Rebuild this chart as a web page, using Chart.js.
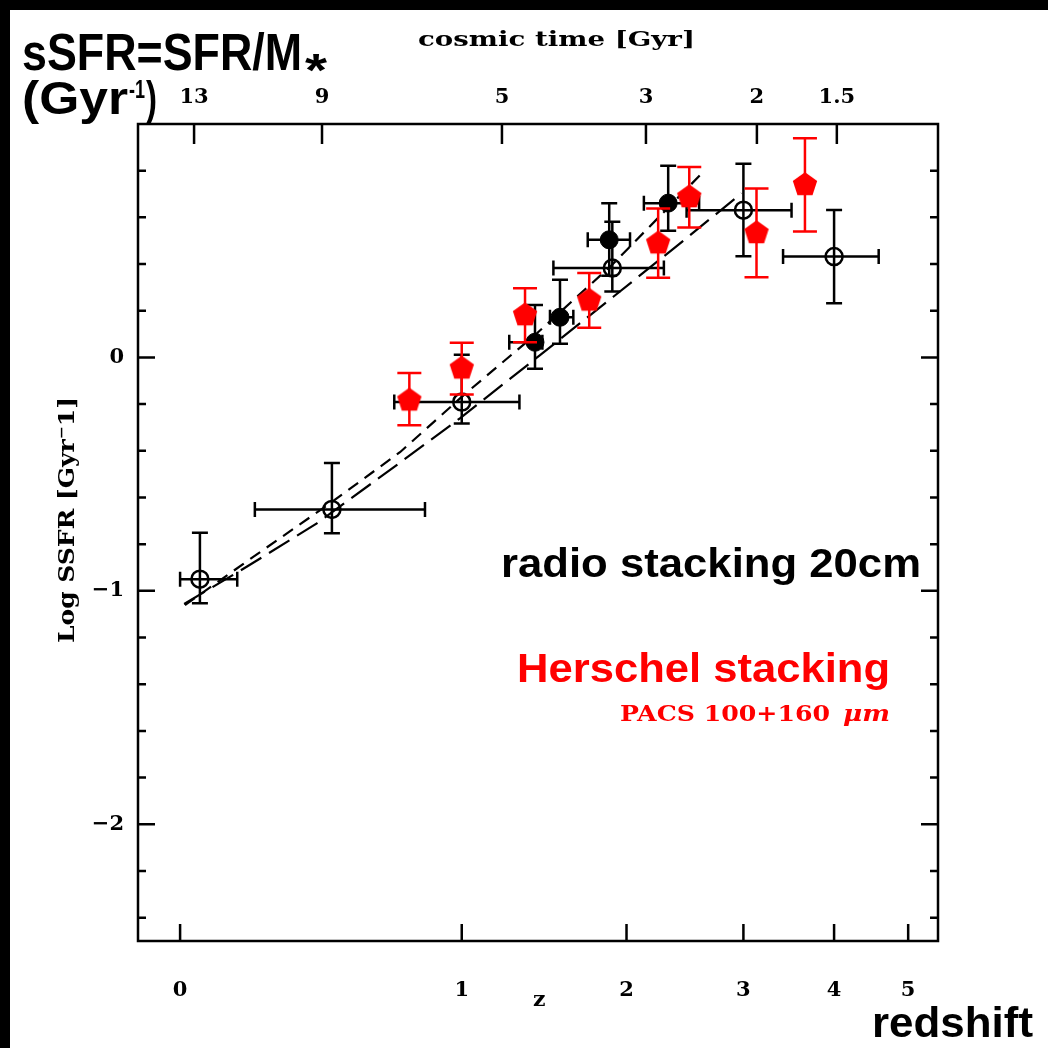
<!DOCTYPE html>
<html>
<head>
<meta charset="utf-8">
<script src="https://cdn.jsdelivr.net/npm/chart.js@4"></script>
<style>
  html, body { margin: 0; padding: 0; background: #fff; }
  canvas { display: block; }
</style>
</head>
<body>
<canvas id="ssfr-graph" width="1048" height="1048"></canvas>
<script>
// radio stacking 20cm, open circles (z with x error, log sSFR with y error)
const radioZ = [0.05, 0.453, 1.0, 1.897, 3.0, 4.0];
const radioZLo = [0.0, 0.202, 0.694, 1.506, 2.478, 3.41];
const radioZHi = [0.151, 0.827, 1.305, 2.289, 3.503, 4.58];
const radioSSFR = [-0.95, -0.651, -0.191, 0.383, 0.631, 0.432];
const radioSSFRLo = [-1.053, -0.753, -0.283, 0.282, 0.433, 0.232];
const radioSSFRHi = [-0.751, -0.452, 0.012, 0.581, 0.83, 0.632];

// radio stacking, filled circles
const radioSubZ = [1.395, 1.547, 1.875, 2.324];
const radioSubZLo = [1.248, 1.485, 1.727, 2.131];
const radioSubZHi = [1.439, 1.632, 2.026, 2.587];
const radioSubSSFR = [0.065, 0.172, 0.504, 0.661];
const radioSubSSFRLo = [-0.048, 0.059, 0.35, 0.543];
const radioSubSSFRHi = [0.225, 0.333, 0.661, 0.821];

// Herschel PACS stacking, red pentagons
const herschelZ = [0.758, 1.0, 1.337, 1.737, 2.243, 2.501, 3.131, 3.654];
const herschelSSFR = [-0.184, -0.047, 0.181, 0.244, 0.489, 0.687, 0.533, 0.739];
const herschelSSFRLo = [-0.291, -0.159, 0.065, 0.127, 0.341, 0.557, 0.343, 0.54];
const herschelSSFRHi = [-0.067, 0.063, 0.296, 0.362, 0.638, 0.816, 0.724, 0.939];

// model curves
const shortDashZ = [0.012, 0.188, 0.446, 0.718, 1.021, 1.395, 1.894, 2.622];
const shortDashSSFR = [-1.061, -0.864, -0.625, -0.406, -0.153, 0.096, 0.396, 0.794];
const longDashZ = [0.01, 0.178, 0.4, 0.704, 0.991, 1.425, 1.904, 2.363, 2.982];
const longDashSSFR = [-1.056, -0.897, -0.711, -0.461, -0.261, 0.01, 0.26, 0.464, 0.703];

// axes
const zTicks = [0, 1, 2, 3, 4, 5];
const cosmicTimeZ = [0.035, 0.418, 1.208, 2.147, 3.135, 4.034];
const cosmicTimeLabels = ['13', '9', '5', '3', '2', '1.5'];
const ssfrTicks = [-2.4, -2.2, -2, -1.8, -1.6, -1.4, -1.2, -1, -0.8, -0.6, -0.4, -0.2, 0, 0.2, 0.4, 0.6, 0.8];
const ssfrLabels = {'0': '0', '-1': '\u22121', '-2': '\u22122'};

const X_MIN = 0.9016, X_MAX = 6.457; // 1+z

const toPoints = (zs, ys) => zs.map((z, i) => ({x: 1 + z, y: ys[i]}));

const pentagon = document.createElement('canvas');
pentagon.width = 28;
pentagon.height = 28;
const pc = pentagon.getContext('2d');
pc.fillStyle = '#ff0000';
pc.beginPath();
for (let k = 0; k < 5; k++) {
    const a = -Math.PI / 2 + k * 2 * Math.PI / 5;
    const px = 14 + 12.8 * Math.cos(a), py = 14 + 12.8 * Math.sin(a);
    if (k) pc.lineTo(px, py); else pc.moveTo(px, py);
}
pc.closePath();
pc.fill();

const errorBars = {
    id: 'errorBars',
    beforeDatasetDraw(chart, args) {
        const e = chart.data.datasets[args.index].errors;
        if (!e) return;
        const {ctx, scales: {x, y}} = chart;
        ctx.save();
        ctx.strokeStyle = e.color;
        ctx.lineWidth = 2.5;
        ctx.beginPath();
        e.z.forEach((z, i) => {
            const px = x.getPixelForValue(1 + z);
            const py = y.getPixelForValue(e.val[i]);
            const y1 = y.getPixelForValue(e.lo[i]);
            const y2 = y.getPixelForValue(e.hi[i]);
            ctx.moveTo(px, y1); ctx.lineTo(px, y2);
            ctx.moveTo(px - e.cap, y1); ctx.lineTo(px + e.cap, y1);
            ctx.moveTo(px - e.cap, y2); ctx.lineTo(px + e.cap, y2);
            if (e.zLo) {
                const x1 = x.getPixelForValue(1 + e.zLo[i]);
                const x2 = x.getPixelForValue(1 + e.zHi[i]);
                ctx.moveTo(x1, py); ctx.lineTo(x2, py);
                ctx.moveTo(x1, py - 7.5); ctx.lineTo(x1, py + 7.5);
                ctx.moveTo(x2, py - 7.5); ctx.lineTo(x2, py + 7.5);
            }
        });
        ctx.stroke();
        ctx.restore();
    }
};

const fitText = (ctx, text, x, y, width, font, color) => {
    ctx.save();
    ctx.font = font;
    ctx.fillStyle = color || '#000';
    ctx.textBaseline = 'alphabetic';
    const w = ctx.measureText(text).width;
    ctx.translate(x, y);
    ctx.scale(width / w, 1);
    ctx.fillText(text, 0, 0);
    ctx.restore();
};

const frame = {
    id: 'frame',
    beforeDraw(chart) {
        const ctx = chart.ctx;
        ctx.save();
        ctx.fillStyle = '#fff';
        ctx.fillRect(0, 0, 1048, 1048);
        ctx.fillStyle = '#000';
        ctx.fillRect(0, 0, 1048, 10);
        ctx.fillRect(0, 0, 10, 1048);
        ctx.restore();
    },
    beforeDatasetsDraw(chart) {
        const {ctx, chartArea: a, scales} = chart;
        ctx.save();
        ctx.strokeStyle = '#000';
        ctx.lineWidth = 2.5;
        ctx.strokeRect(a.left, a.top, a.width, a.height);
        ctx.beginPath();
        scales.x.ticks.forEach(t => {
            const px = scales.x.getPixelForValue(t.value);
            ctx.moveTo(px, a.bottom); ctx.lineTo(px, a.bottom - 17);
        });
        scales.xTop.ticks.forEach(t => {
            const px = scales.xTop.getPixelForValue(t.value);
            ctx.moveTo(px, a.top); ctx.lineTo(px, a.top + 20);
        });
        scales.y.ticks.forEach(t => {
            const py = scales.y.getPixelForValue(t.value);
            const len = Number.isInteger(t.value) ? 17 : 8;
            ctx.moveTo(a.left, py); ctx.lineTo(a.left + len, py);
            ctx.moveTo(a.right, py); ctx.lineTo(a.right - len, py);
        });
        ctx.stroke();
        ctx.restore();
    },
    afterDraw(chart) {
        const ctx = chart.ctx;
        const sans = '"Liberation Sans", Arial, sans-serif';
        const serif = '"DejaVu Serif", serif';
        fitText(ctx, 'sSFR=SFR/M', 22, 70, 280, 'bold 52px ' + sans);
        fitText(ctx, '*', 305, 86, 22, 'bold 46px ' + sans);
        fitText(ctx, '(Gyr', 22, 114, 106, 'bold 46px ' + sans);
        fitText(ctx, '-1', 129, 98, 16, 'bold 26px ' + sans);
        fitText(ctx, ')', 146, 114, 11, 'bold 46px ' + sans);
        fitText(ctx, 'cosmic time [Gyr]', 418, 46, 277, 'bold 21px ' + serif);
        fitText(ctx, 'radio stacking 20cm', 501, 577, 420, 'bold 40px ' + sans);
        fitText(ctx, 'Herschel stacking', 517, 682, 373, 'bold 40px ' + sans, '#ff0000');
        fitText(ctx, 'PACS 100+160', 620, 721, 210, 'bold 22px ' + serif, '#ff0000');
        fitText(ctx, '\u03bcm', 843, 721, 47, 'italic bold 22px ' + serif, '#ff0000');
        fitText(ctx, 'z', 533, 1006, 12.5, 'bold 21px ' + serif);
        fitText(ctx, 'redshift', 872, 1037, 161, 'bold 42px ' + sans);
        ctx.save();
        ctx.translate(74, 643);
        ctx.rotate(-Math.PI / 2);
        fitText(ctx, 'Log SSFR [Gyr\u207b1]', 0, 0, 246, 'bold 23px ' + serif);
        ctx.restore();
    }
};

const tickFont = {family: 'DejaVu Serif', weight: 'bold', size: 21};

new Chart(document.getElementById('ssfr-graph'), {
    type: 'scatter',
    data: {
        datasets: [{
            data: toPoints(herschelZ, herschelSSFR),
            pointStyle: pentagon,
            pointRadius: 12,
            backgroundColor: '#ff0000',
            borderColor: '#ff0000',
            errors: {color: '#ff0000', cap: 12, z: herschelZ, val: herschelSSFR, lo: herschelSSFRLo, hi: herschelSSFRHi},
        }, {
            data: toPoints(radioSubZ, radioSubSSFR),
            pointStyle: 'circle',
            pointRadius: 9,
            pointBorderWidth: 1,
            backgroundColor: '#000',
            borderColor: '#000',
            errors: {color: '#000', cap: 8, z: radioSubZ, val: radioSubSSFR, lo: radioSubSSFRLo, hi: radioSubSSFRHi, zLo: radioSubZLo, zHi: radioSubZHi},
        }, {
            data: toPoints(radioZ, radioSSFR),
            pointStyle: 'circle',
            pointRadius: 8.5,
            pointBorderWidth: 2.5,
            backgroundColor: 'rgba(0,0,0,0)',
            borderColor: '#000',
            errors: {color: '#000', cap: 8, z: radioZ, val: radioSSFR, lo: radioSSFRLo, hi: radioSSFRHi, zLo: radioZLo, zHi: radioZHi},
        }, {
            data: toPoints(shortDashZ, shortDashSSFR),
            showLine: true,
            pointRadius: 0,
            borderColor: '#000',
            borderWidth: 2.2,
            borderDash: [12, 8],
        }, {
            data: toPoints(longDashZ, longDashSSFR),
            showLine: true,
            pointRadius: 0,
            borderColor: '#000',
            borderWidth: 2.2,
            borderDash: [24, 9],
        }]
    },
    options: {
        responsive: false,
        animation: false,
        devicePixelRatio: 1,
        layout: {padding: {left: 0, right: 110, top: 0, bottom: 0}},
        plugins: {legend: {display: false}, tooltip: {enabled: false}},
        scales: {
            x: {
                type: 'logarithmic',
                position: 'bottom',
                min: X_MIN,
                max: X_MAX,
                afterBuildTicks: s => { s.ticks = zTicks.map(z => ({value: 1 + z})); },
                afterFit: s => { s.height = 107; },
                grid: {display: false, drawTicks: false},
                border: {display: false},
                ticks: {autoSkip: false, maxRotation: 0, padding: 37, color: '#000', font: tickFont,
                    callback: v => String(Math.round(v - 1))},
            },
            xTop: {
                type: 'logarithmic',
                position: 'top',
                min: X_MIN,
                max: X_MAX,
                afterBuildTicks: s => { s.ticks = cosmicTimeZ.map(z => ({value: 1 + z})); },
                afterFit: s => { s.height = 124; },
                grid: {display: false, drawTicks: false},
                border: {display: false},
                ticks: {autoSkip: false, maxRotation: 0, padding: 14, color: '#000', font: tickFont,
                    callback: (v, i) => cosmicTimeLabels[i]},
            },
            y: {
                min: -2.5,
                max: 1,
                afterBuildTicks: s => { s.ticks = ssfrTicks.map(v => ({value: v})); },
                afterFit: s => { s.width = 138; },
                grid: {display: false, drawTicks: false},
                border: {display: false},
                ticks: {autoSkip: false, padding: 14, color: '#000', font: {family: 'DejaVu Serif', weight: 'bold', size: 21},
                    callback: v => ssfrLabels[String(v)] || ''},
            }
        }
    },
    plugins: [errorBars, frame]
});
</script>
</body>
</html>
